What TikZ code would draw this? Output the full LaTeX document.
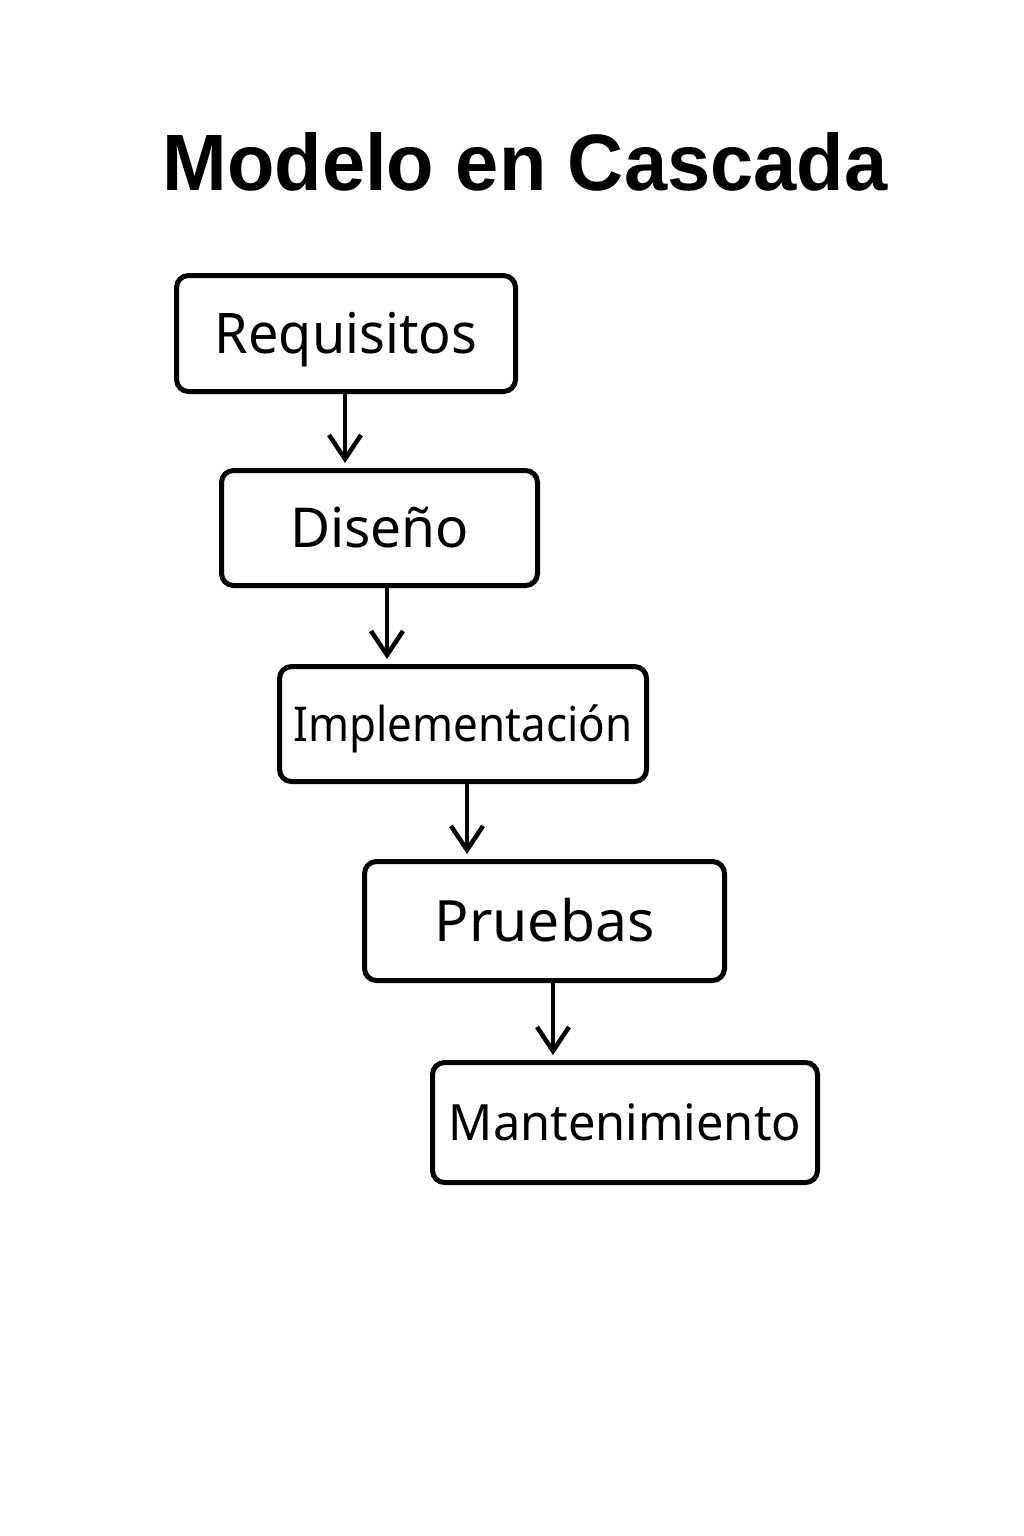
\documentclass[tikz,border=0pt]{standalone}
\usepackage{fontspec}
\setmainfont{Noto Sans}
\newfontfamily\titlefont{Liberation Sans}[FakeStretch=0.97]
\usetikzlibrary{arrows.meta}
\begin{document}
\begin{tikzpicture}[x=1pt,y=-1pt,
  stage/.style={draw, line width=5pt, rounded corners=12pt, inner sep=0pt, align=center, text depth=0pt},
  flow/.style={-{Straight Barb[length=24pt,width=32pt,line width=4.5pt]}, line width=4.5pt, shorten >=5pt}]
\useasboundingbox[fill=white] (0,0) rectangle (1024,1536);
\node[font=\titlefont\bfseries\fontsize{80}{90}\selectfont, text height=57pt, text depth=0pt, inner sep=0pt] (title) at (525,161.5) {Modelo en Cascada};
\node[stage, minimum width=339pt, minimum height=116pt, font=\fontsize{56}{60}\selectfont\addfontfeature{FakeStretch=0.963}, text height=40pt] (req) at (346,333.5) {Requisitos};
\node[stage, minimum width=316pt, minimum height=115pt, font=\fontsize{55}{60}\selectfont, text height=39pt] (dis) at (379.5,528) {Diseño};
\node[stage, minimum width=367pt, minimum height=115pt, font=\fontsize{48}{52}\selectfont\addfontfeature{FakeStretch=0.915}, text height=35pt] (imp) at (463,724) {Implementación};
\node[stage, minimum width=360pt, minimum height=119pt, font=\fontsize{57}{60}\selectfont, text height=41pt] (pru) at (544.5,921) {Pruebas};
\node[stage, minimum width=385pt, minimum height=120pt, font=\fontsize{50}{54}\selectfont\addfontfeature{FakeStretch=0.975}, text height=36pt] (man) at (625,1122.5) {Mantenimiento};
\draw[flow] ([xshift=-1pt]req.south) -- ([xshift=-1pt]req.south |- dis.north);
\draw[flow] ([xshift=7.5pt]dis.south) -- ([xshift=7.5pt]dis.south |- imp.north);
\draw[flow] ([xshift=4pt]imp.south) -- ([xshift=4pt]imp.south |- pru.north);
\draw[flow] ([xshift=8.5pt]pru.south) -- ([xshift=8.5pt]pru.south |- man.north);
\end{tikzpicture}
\end{document}
